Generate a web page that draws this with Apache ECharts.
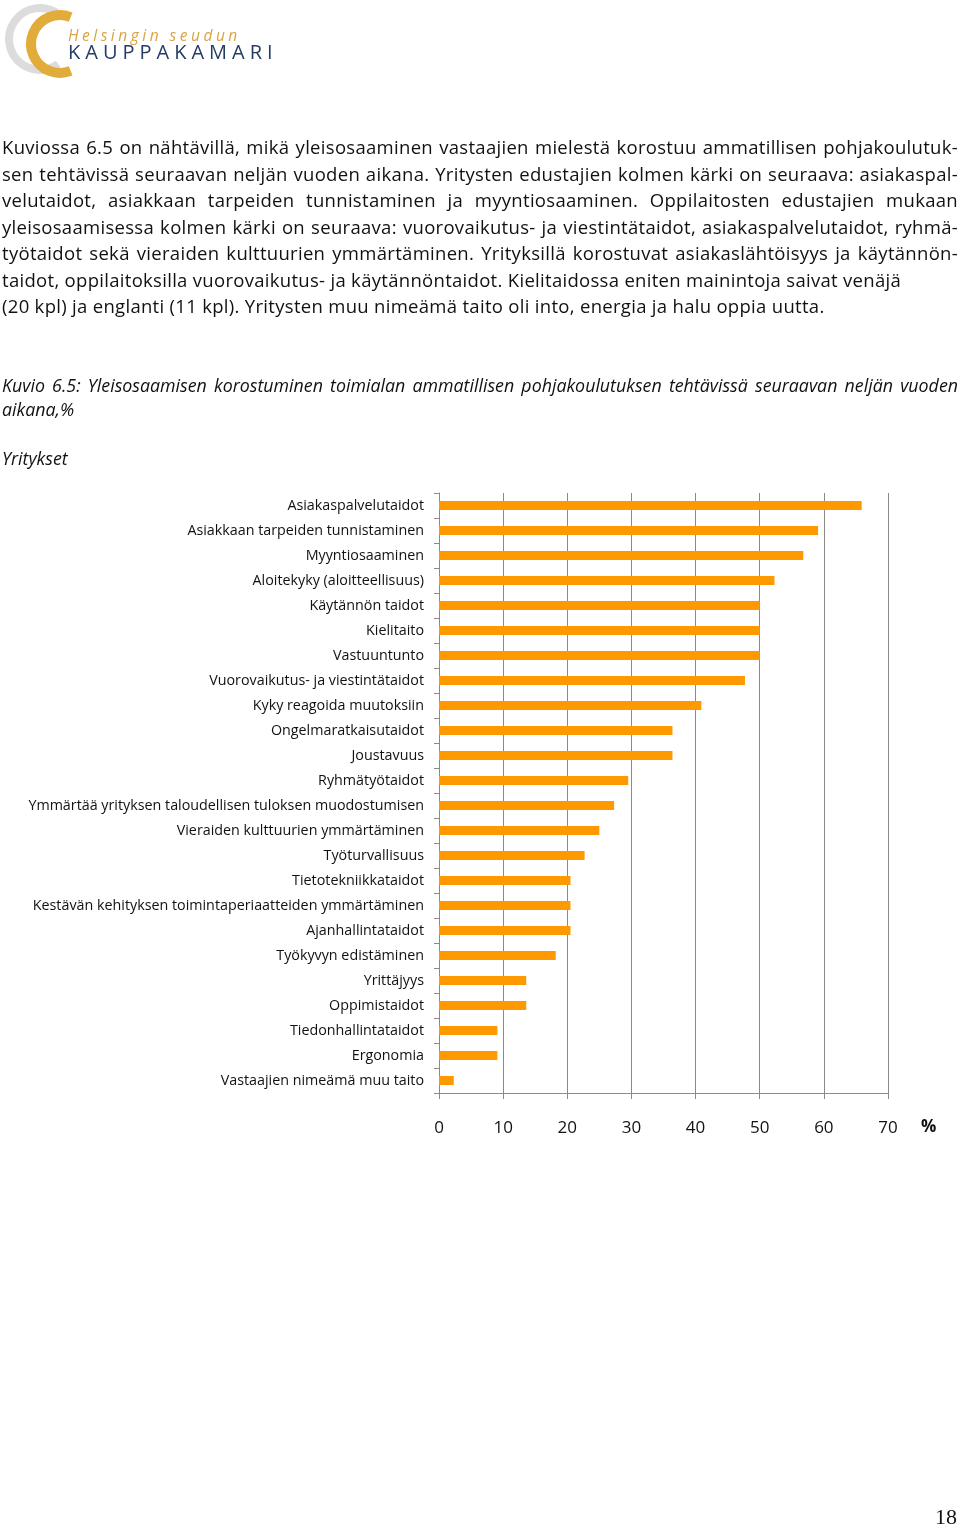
<!DOCTYPE html>
<html>
<head>
<meta charset="utf-8">
<script src="https://cdn.jsdelivr.net/npm/echarts@6/dist/echarts.min.js"></script>
<style>
  html, body { margin:0; padding:0; background:#fff; }
  body { width:960px; height:1528px; position:relative; overflow:hidden; font-family:"Open Sans", sans-serif; color:#111; }
  #chart { position:absolute; left:0; top:0; width:960px; height:1528px; }
  .t { position:absolute; z-index:2; }
  .ln { position:absolute; left:2px; width:956px; font-size:18.5px; letter-spacing:0.3px; line-height:26px; height:26px; white-space:nowrap; }
  .j { text-align:justify; text-align-last:justify; white-space:normal; }
  .cap { font-style:italic; font-size:17.8px; letter-spacing:0; }
</style>
</head>
<body>
<div id="chart"></div>

<div class="t" style="left:68px;top:24px;font-style:italic;font-size:15.5px;letter-spacing:3.5px;color:#d9a443;">Helsingin seudun</div>
<div class="t" style="left:68px;top:38px;font-size:20px;letter-spacing:5px;color:#243c66;">KAUPPAKAMARI</div>

<div class="t" id="body"></div>

<div class="t" style="left:0;top:0;">
  <div class="ln cap j" style="top:372px;">Kuvio 6.5: Yleisosaamisen korostuminen toimialan ammatillisen pohjakoulutuksen tehtävissä seuraavan neljän vuoden</div>
  <div class="ln cap" style="top:396px;">aikana,%</div>
  <div class="ln cap" style="top:445px;">Yritykset</div>
</div>

<div class="t" style="left:935px;top:1503px;font-family:'Liberation Serif',serif;font-size:22px;line-height:28px;color:#111;">18</div>

<script>
// ---- data ----
var categories = [
  'Asiakaspalvelutaidot',
  'Asiakkaan tarpeiden tunnistaminen',
  'Myyntiosaaminen',
  'Aloitekyky (aloitteellisuus)',
  'Käytännön taidot',
  'Kielitaito',
  'Vastuuntunto',
  'Vuorovaikutus- ja viestintätaidot',
  'Kyky reagoida muutoksiin',
  'Ongelmaratkaisutaidot',
  'Joustavuus',
  'Ryhmätyötaidot',
  'Ymmärtää yrityksen taloudellisen tuloksen muodostumisen',
  'Vieraiden kulttuurien ymmärtäminen',
  'Työturvallisuus',
  'Tietotekniikkataidot',
  'Kestävän kehityksen toimintaperiaatteiden ymmärtäminen',
  'Ajanhallintataidot',
  'Työkyvyn edistäminen',
  'Yrittäjyys',
  'Oppimistaidot',
  'Tiedonhallintataidot',
  'Ergonomia',
  'Vastaajien nimeämä muu taito'
];
var values = [65.9, 59.1, 56.8, 52.3, 50.0, 50.0, 50.0, 47.7, 40.9, 36.4, 36.4, 29.5, 27.3, 25.0, 22.7, 20.5, 20.5, 20.5, 18.2, 13.6, 13.6, 9.1, 9.1, 2.3];
var xTicks = { min: 0, max: 70, interval: 10 };
var unitLabel = '%';

var bodyLines = [
  ['Kuviossa 6.5 on nähtävillä, mikä yleisosaaminen vastaajien mielestä korostuu ammatillisen pohjakoulutuk-', true],
  ['sen tehtävissä seuraavan neljän vuoden aikana. Yritysten edustajien kolmen kärki on seuraava: asiakaspal-', true],
  ['velutaidot, asiakkaan tarpeiden tunnistaminen ja myyntiosaaminen. Oppilaitosten edustajien mukaan', true],
  ['yleisosaamisessa kolmen kärki on seuraava: vuorovaikutus- ja viestintätaidot, asiakaspalvelutaidot, ryhmä-', true],
  ['työtaidot sekä vieraiden kulttuurien ymmärtäminen. Yrityksillä korostuvat asiakaslähtöisyys ja käytännön-', true],
  ['taidot, oppilaitoksilla vuorovaikutus- ja käytännöntaidot. Kielitaidossa eniten mainintoja saivat venäjä', false],
  ['(20 kpl) ja englanti (11 kpl). Yritysten muu nimeämä taito oli into, energia ja halu oppia uutta.', false]
];

// body text
var bodyEl = document.getElementById('body');
bodyLines.forEach(function (l, i) {
  var d = document.createElement('div');
  d.className = 'ln' + (l[1] ? ' j' : '');
  d.style.top = (134 + i * 26.5) + 'px';
  d.textContent = l[0];
  bodyEl.appendChild(d);
});

var chart = echarts.init(document.getElementById('chart'), null, { renderer: 'canvas' });
var gridColor = '#8a8a8a';
chart.setOption({
  animation: false,
  backgroundColor: '#ffffff',
  grid: { left: 439, top: 493, width: 449, height: 600, containLabel: false },
  xAxis: {
    type: 'value',
    min: xTicks.min, max: xTicks.max, interval: xTicks.interval,
    axisLine: { show: true, lineStyle: { color: gridColor, width: 1 } },
    axisTick: { show: true, length: 6, lineStyle: { color: gridColor } },
    splitLine: { show: true, lineStyle: { color: gridColor, width: 1 } },
    axisLabel: { margin: 27, fontSize: 17, color: '#111', fontFamily: 'Open Sans' }
  },
  yAxis: {
    type: 'category',
    inverse: true,
    data: categories,
    axisLine: { show: true, lineStyle: { color: gridColor, width: 1 } },
    axisTick: { show: true, length: 5, alignWithLabel: false, lineStyle: { color: gridColor } },
    axisLabel: { margin: 15, fontSize: 14.3, color: '#111', fontFamily: 'Open Sans' }
  },
  series: [{
    type: 'bar',
    data: values,
    barWidth: 9,
    itemStyle: { color: '#ff9900' }
  }],
  graphic: [
    { type: 'arc', shape: { cx: 40, cy: 39, r: 31, startAngle: -Math.PI * 0.3, endAngle: Math.PI * 0.3, clockwise: false },
      style: { stroke: '#dcdcdc', lineWidth: 8, fill: null } },
    { type: 'arc', shape: { cx: 60, cy: 44, r: 29, startAngle: -Math.PI * 0.38, endAngle: Math.PI * 0.38, clockwise: false },
      style: { stroke: '#e2ac3b', lineWidth: 10, fill: null } },
    { type: 'text', left: 921, top: 1119,
      style: { text: unitLabel, fontSize: 17, fontWeight: 'bold', fill: '#111', fontFamily: 'Open Sans' } }
  ]
});
</script>
</body>
</html>
